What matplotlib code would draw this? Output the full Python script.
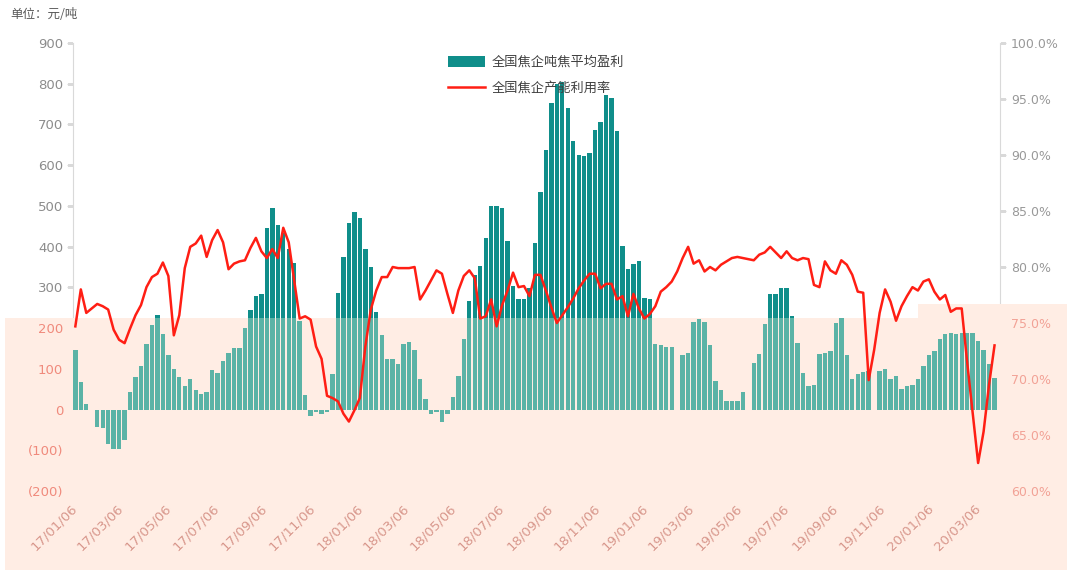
import numpy as np
import pandas as pd
import matplotlib
matplotlib.use('Agg')
import matplotlib.pyplot as plt
from matplotlib.patches import Polygon, Patch
from matplotlib.lines import Line2D

nan = np.nan

# 周度数据 2017/01/06 起
dates = pd.date_range('2017-01-06', periods=169, freq='7D')

# 全国焦企吨焦平均盈利 (元/吨)
profit = [145, 67, 14, nan, -43, -45, -84, -97, -97, -75,
          43, 80, 108, 162, 207, 233, 185, 135, 100, 80,
          59, 74, 48, 39, 43, 96, 89, 119, 138, 151,
          151, 201, 244, 280, 283, 445, 494, 454, 433, 394,
          359, 217, 35, -15, -5, -10, -5, 88, 285, 375,
          457, 485, 471, 394, 351, 240, 182, 125, 125, 111,
          162, 166, 145, 75, 27, -10, -5, -31, -10, 30,
          82, 172, 267, 330, 352, 420, 500, 500, 495, 414,
          303, 272, 272, 299, 410, 533, 637, 752, 800, 804,
          740, 660, 625, 622, 630, 686, 707, 772, 764, 683,
          402, 346, 358, 365, 275, 272, 160, 158, 153, 153,
          nan, 135, 140, 215, 223, 215, 158, 71, 49, 20,
          22, 22, 43, nan, 114, 137, 209, 283, 283, 298,
          298, 230, 164, 90, 57, 61, 137, 139, 143, 213,
          225, 134, 76, 88, 92, 94, nan, 94, 100, 76,
          82, 51, 57, 61, 76, 107, 134, 143, 172, 185,
          187, 185, 187, 187, 187, 168, 145, 111, 78]

# 全国焦企产能利用率 (%)
util = [74.7, 78.0, 75.9, 76.3, 76.7, 76.5, 76.2, 74.4, 73.5, 73.2,
        74.5, 75.7, 76.6, 78.2, 79.1, 79.4, 80.4, 79.2, 73.9, 75.7,
        79.9, 81.8, 82.1, 82.8, 80.9, 82.4, 83.3, 82.2, 79.8, 80.3,
        80.5, 80.6, 81.7, 82.6, 81.4, 80.8, 81.6, 80.8, 83.5, 82.2,
        78.8, 75.4, 75.6, 75.3, 72.9, 71.8, 68.5, 68.3, 68.0, 66.9,
        66.2, 67.2, 68.3, 72.9, 76.2, 77.9, 79.1, 79.1, 80.0, 79.9,
        79.9, 79.9, 80.0, 77.1, 77.9, 78.8, 79.7, 79.4, 77.6, 75.9,
        77.9, 79.2, 79.7, 79.0, 75.4, 75.6, 77.1, 74.7, 76.6, 77.9,
        79.5, 78.2, 78.3, 77.4, 79.3, 79.3, 77.9, 76.4, 75.0, 75.7,
        76.4, 77.2, 78.1, 78.8, 79.4, 79.4, 78.1, 78.5, 78.5, 77.1,
        77.4, 75.6, 77.6, 76.3, 75.4, 75.8, 76.5, 77.8, 78.2, 78.7,
        79.6, 80.8, 81.8, 80.3, 80.6, 79.6, 80.0, 79.7, 80.2, 80.5,
        80.8, 80.9, 80.8, 80.7, 80.6, 81.1, 81.3, 81.8, 81.3, 80.8,
        81.4, 80.8, 80.6, 80.8, 80.7, 78.4, 78.2, 80.5, 79.7, 79.4,
        80.6, 80.2, 79.3, 77.8, 77.7, 69.9, 72.6, 75.9, 78.0, 76.9,
        75.2, 76.5, 77.4, 78.2, 77.9, 78.7, 78.9, 77.8, 77.1, 77.5,
        76.0, 76.3, 76.3, 71.5, 67.0, 62.5, 65.3, 69.5, 73.0]

left_ticks = list(range(-200, 1000, 100))
right_ticks = [60, 65, 70, 75, 80, 85, 90, 95, 100]
x_ticks = [pd.Timestamp(2017 + m // 12, m % 12 + 1, 6) for m in range(0, 39, 2)]

teal = '#0F8E8A'
teal_light = '#5BB3A6'
red = '#FF1E14'
pink = '#FFEDE4'
cjk = ['Noto Sans CJK SC', 'DejaVu Sans']

W, H = 1067, 576
fig = plt.figure(figsize=(W / 100, H / 100), dpi=100)

# 浅橙色遮罩区域 (像素坐标 -> figure 坐标)
mask_px = [(5, 318), (918, 318), (918, 304), (1067, 304), (1067, 570), (5, 570)]
mask_xy = [(x / W, 1 - y / H) for x, y in mask_px]
fig.add_artist(Polygon(mask_xy, closed=True, transform=fig.transFigure,
                       facecolor=pink, edgecolor='none', zorder=-1))
clip_poly = Polygon(mask_xy, closed=True, transform=fig.transFigure)
# 遮罩以外的区域, 用于隐藏遮罩内的坐标轴线
top_px = [(0, 0), (W, 0), (W, 304), (918, 304), (918, 318), (0, 318)]
top_poly = Polygon([(x / W, 1 - y / H) for x, y in top_px], closed=True,
                   transform=fig.transFigure)


def clip_to_top(artist):
    artist.set_clip_on(True)
    artist.set_clip_box(None)
    artist.set_clip_path(top_poly)


ax = fig.add_axes([73 / W, 1 - 491 / H, 927 / W, 448 / H])
ax.patch.set_visible(False)
ax2 = ax.twinx()
ax2.patch.set_visible(False)

ax.bar(dates, profit, width=5.6, color=teal, linewidth=0)
light = ax.bar(dates, profit, width=5.6, color=teal_light, linewidth=0)
for b in light:
    b.set_clip_path(clip_poly)

ax2.plot(dates, util, color=red, lw=1.8, solid_joinstyle='round')

ax.set_xlim(pd.Timestamp('2017-01-03'), pd.Timestamp('2020-04-03'))
ax.set_ylim(-200, 900)
ax2.set_ylim(60, 100)


# 左轴
def fmt_left(v):
    return f'({abs(v)})' if v < 0 else str(v)


ax.set_yticks(left_ticks, labels=[fmt_left(v) for v in left_ticks])
ax.tick_params(axis='y', length=4, color='#D9D9D9', labelsize=9.5, pad=3)
for v, lab in zip(left_ticks, ax.get_yticklabels()):
    lab.set_color('#F08A7C' if v <= 200 else '#8C8C8C')

# 右轴
ax2.set_yticks(right_ticks, labels=[f'{v:.1f}%' for v in right_ticks])
ax2.tick_params(axis='y', length=4, color='#D9D9D9', labelsize=9, pad=4)
for v, lab in zip(right_ticks, ax2.get_yticklabels()):
    lab.set_color('#F2A296' if v <= 75 else '#999999')

# 日期轴
ax.set_xticks(x_ticks)
ax.set_xticklabels([d.strftime('%y/%m/%d') for d in x_ticks], rotation=45,
                   ha='right', va='center', rotation_mode='anchor',
                   color='#D8978C', fontsize=9.5)
ax.tick_params(axis='x', length=0, pad=11)

for s in ['top', 'bottom', 'right']:
    ax.spines[s].set_visible(False)
for s in ['top', 'bottom', 'left']:
    ax2.spines[s].set_visible(False)
ax.spines['left'].set_color('#D9D9D9')
ax2.spines['right'].set_color('#D9D9D9')
clip_to_top(ax.spines['left'])
clip_to_top(ax2.spines['right'])
for t in ax.yaxis.get_major_ticks():
    clip_to_top(t.tick1line)
for t in ax2.yaxis.get_major_ticks():
    clip_to_top(t.tick2line)

fig.text(10 / W, 1 - 14 / H, '单位：元/吨', fontsize=9, color='#595959',
         va='center', family=cjk)

handles = [Patch(facecolor=teal, edgecolor='none'),
           Line2D([], [], color=red, lw=1.8)]
leg = fig.legend(handles, ['全国焦企吨焦平均盈利', '全国焦企产能利用率'],
                 loc='upper left', bbox_to_anchor=(436 / W, 1 - 44 / H),
                 frameon=False, handlelength=2.8, handleheight=0.9,
                 labelspacing=1.0, handletextpad=0.5,
                 prop={'family': cjk, 'size': 9.5})
for t in leg.get_texts():
    t.set_color('#404040')

fig.savefig('out.png', dpi=100)
